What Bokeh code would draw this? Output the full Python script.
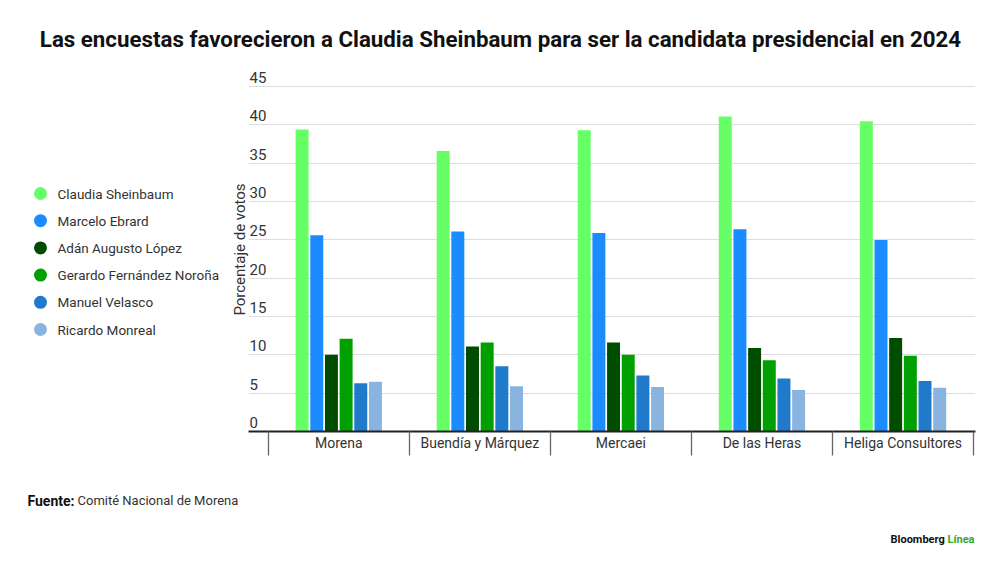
from bokeh.plotting import figure
from bokeh.models import ColumnDataSource, FixedTicker, Range1d
from bokeh.layouts import column, row
from bokeh.transform import dodge
from bokeh.core.properties import value
from bokeh.embed import file_html
from bokeh.resources import INLINE

# ---- data ----
title_text = "Las encuestas favorecieron a Claudia Sheinbaum para ser la candidata presidencial en 2024"
pollsters = ["Morena", "Buendía y Márquez", "Mercaei", "De las Heras", "Heliga Consultores"]
candidates = ["Claudia Sheinbaum", "Marcelo Ebrard", "Adán Augusto López",
              "Gerardo Fernández Noroña", "Manuel Velasco", "Ricardo Monreal"]
sheinbaum = [39.4, 36.6, 39.3, 41.1, 40.5]
ebrard = [25.6, 26.1, 25.9, 26.4, 25.0]
lopez = [10.0, 11.1, 11.6, 10.9, 12.2]
norona = [12.1, 11.6, 10.0, 9.3, 9.9]
velasco = [6.3, 8.5, 7.3, 6.9, 6.6]
monreal = [6.5, 5.9, 5.8, 5.4, 5.7]
y_ticks = [0, 5, 10, 15, 20, 25, 30, 35, 40, 45]
colors = ["#66ff66", "#1a8cff", "#004d00", "#00a000", "#1f7acc", "#8ab4e0"]

FONT = "Roboto"
TXT = "#333333"
W = 984
LH = 410            # height of the middle row
TOP_B, BOT_B = 7, 39  # borders round the chart frame (legend panel uses the same)


def blank(width, height, xr, yr, **kw):
    f = figure(width=width, height=height, x_range=xr, y_range=yr, output_backend="svg",
               toolbar_location=None, x_axis_type=None, y_axis_type=None, **kw)
    f.outline_line_color = None
    return f


# ---- header ----
head = blank(W, 60, Range1d(0, W), Range1d(60, 0), min_border=0)
head.text(x=[500], y=[38], text=[title_text], text_font=value(FONT), text_font_size="22.3px",
          text_font_style="bold", text_color="#111111", text_align="center",
          text_baseline="alphabetic")

# ---- legend panel (frame spans the same rows as the chart frame) ----
frame_h = LH - TOP_B - BOT_B
leg_top = -126 / 27.2
leg = blank(222, LH, Range1d(0, 222), Range1d(leg_top + frame_h / 27.2, leg_top),
            min_border_left=0, min_border_right=0, min_border_top=TOP_B, min_border_bottom=BOT_B)
leg_src = ColumnDataSource(dict(i=list(range(len(candidates))), name=candidates, color=colors))
leg.scatter(x=40, y="i", source=leg_src, marker="circle", size=13, fill_color="color",
            line_color=None)
leg.text(x=57, y="i", text="name", source=leg_src, text_font=value(FONT),
         text_font_size="13.5px", text_color=TXT, text_baseline="middle", text_align="left")

# ---- main chart ----
x_pos = list(range(len(pollsters)))
fields = ["sheinbaum", "ebrard", "lopez", "norona", "velasco", "monreal"]
src = ColumnDataSource(dict(x=x_pos, sheinbaum=sheinbaum, ebrard=ebrard, lopez=lopez,
                            norona=norona, velasco=velasco, monreal=monreal))

x_start, x_end = -0.64, len(pollsters) - 0.486
p = figure(width=W - 222, height=LH, x_range=Range1d(x_start, x_end), y_range=Range1d(0, 47.5),
           output_backend="svg", toolbar_location=None,
           min_border_left=26, min_border_right=9, min_border_top=TOP_B, min_border_bottom=BOT_B)
p.outline_line_color = None

step, w = 0.104, 0.092
n = len(fields)
for k, (f, c) in enumerate(zip(fields, colors)):
    p.vbar(x=dodge("x", (k - (n - 1) / 2) * step, range=p.x_range), top=f, bottom=0, width=w,
           source=src, fill_color=c, line_color=None)

p.xaxis.ticker = FixedTicker(ticks=x_pos, minor_ticks=[i - 0.5 for i in range(len(pollsters) + 1)])
p.xaxis.major_label_overrides = {i: s for i, s in zip(x_pos, pollsters)}
p.xaxis.axis_line_color = "#222222"
p.xaxis.axis_line_width = 2
p.xaxis.major_tick_line_color = None
p.xaxis.major_tick_out = 0
p.xaxis.minor_tick_in = 0
p.xaxis.minor_tick_out = 24
p.xaxis.minor_tick_line_color = "#666666"
p.xaxis.minor_tick_line_width = 1.3
p.xaxis.major_label_text_font = FONT
p.xaxis.major_label_text_font_size = "14px"
p.xaxis.major_label_text_color = TXT
p.xaxis.major_label_standoff = -21

p.yaxis.ticker = FixedTicker(ticks=[])
p.yaxis.major_tick_line_color = None
p.yaxis.major_tick_out = 0
p.yaxis.minor_tick_line_color = None
p.yaxis.axis_line_color = None
p.yaxis.major_label_standoff = 0
p.yaxis.axis_label = "Porcentaje de votos"
p.yaxis.axis_label_standoff = 0
p.yaxis.axis_label_text_font = FONT
p.yaxis.axis_label_text_font_size = "15px"
p.yaxis.axis_label_text_font_style = "normal"
p.yaxis.axis_label_text_color = TXT

p.xgrid.visible = False
p.ygrid.ticker = FixedTicker(ticks=y_ticks[1:])
p.ygrid.grid_line_color = "#dddddd"
p.ygrid.grid_line_width = 1

# y tick labels sitting above the grid lines
p.text(x=[x_start] * len(y_ticks), y=y_ticks, text=[str(t) for t in y_ticks],
       text_font=value(FONT), text_font_size="15px", text_color=TXT,
       text_align="left", text_baseline="alphabetic", x_offset=1, y_offset=-9)

# ---- footer ----
foot = blank(W, 76, Range1d(0, W), Range1d(76, 0), min_border=0)
foot.text(x=[27], y=[30], text=["Fuente:"], text_font=value(FONT), text_font_size="14px",
          text_font_style="bold", text_color="#111111", text_baseline="alphabetic")
foot.text(x=[77], y=[30], text=["Comité Nacional de Morena"], text_font=value(FONT),
          text_font_size="13px", text_color=TXT, text_baseline="alphabetic")
foot.text(x=[890], y=[69], text=["Bloomberg"], text_font=value(FONT), text_font_size="11px",
          text_font_style="bold", text_color="#111111", text_baseline="alphabetic")
foot.text(x=[974], y=[69], text=["Línea"], text_font=value(FONT), text_font_size="11px",
          text_font_style="bold", text_color="#2fa82f", text_baseline="alphabetic",
          text_align="right")

layout = column(head, row(leg, p), foot)
open("out.html", "w").write(file_html(layout, INLINE))
